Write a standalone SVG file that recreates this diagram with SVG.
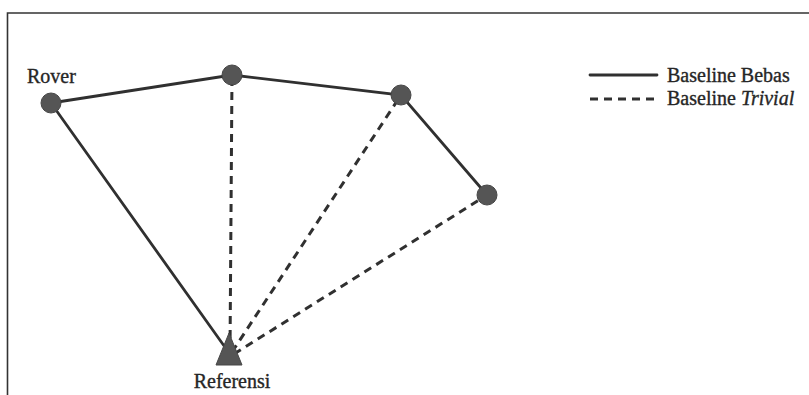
<svg xmlns="http://www.w3.org/2000/svg" width="809" height="395" viewBox="0 0 809 395">
<style>
.t{font-family:"Liberation Serif","Times New Roman",serif;font-size:20px;fill:#262626;stroke:#262626;stroke-width:0.35}
.s{stroke:#303030;stroke-width:2.8;fill:none;stroke-linecap:round}
.d{stroke:#303030;stroke-width:3;fill:none;stroke-dasharray:8 6}
.n{fill:#555;stroke:#474747;stroke-width:1}
</style>
<rect width="809" height="395" fill="#fff"/>
<path d="M7.5 395 V13 H809" fill="none" stroke="#333" stroke-width="1.6"/>
<g id="connectors">
<path class="s" d="M51 103 L232 75 L401 95 L487 195"/>
<path class="s" d="M51 103 L227 350"/>
<path class="d" d="M230 352 L232 75"/>
<path class="d" d="M232 352 L401 95"/>
<path class="d" d="M234 354 L487 195"/>
</g>
<g id="rover"><circle class="n" cx="51" cy="103" r="10"/><text class="t" x="27" y="83">Rover</text></g>
<g id="p2"><circle class="n" cx="232" cy="75" r="10"/></g>
<g id="p3"><circle class="n" cx="401" cy="95" r="10"/></g>
<g id="p4"><circle class="n" cx="487" cy="195" r="10"/></g>
<g id="referensi"><polygon class="n" points="229,333 242,365 216,365"/><text class="t" x="232" y="388" text-anchor="middle">Referensi</text></g>
<g id="legend">
<line class="s" x1="590" y1="75" x2="657" y2="75" stroke-linecap="butt"/>
<text class="t" x="667" y="82">Baseline Bebas</text>
<line class="d" x1="590" y1="99" x2="659" y2="99" stroke-dasharray="9 6"/>
<text class="t" x="667" y="105">Baseline <tspan font-style="italic">Trivial</tspan></text>
</g>
</svg>
